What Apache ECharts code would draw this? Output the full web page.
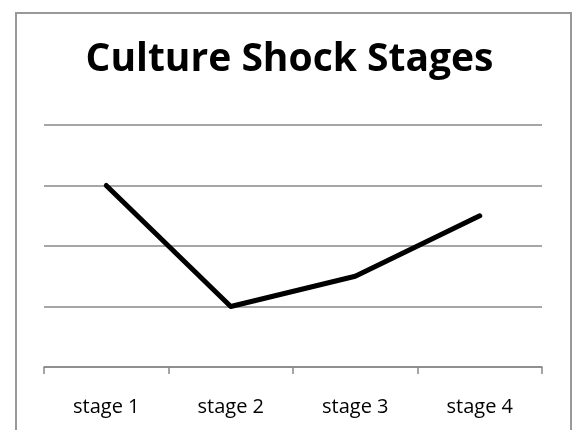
<!DOCTYPE html>
<html>
<head>
<meta charset="utf-8">
<style>
  html, body { margin: 0; padding: 0; background: #fff; }
  #chart { width: 579px; height: 430px; }
</style>
<script src="https://cdn.jsdelivr.net/npm/echarts@6/dist/echarts.min.js"></script>
</head>
<body>
<div id="chart"></div>
<script>
// 数据
var categories = ['stage 1', 'stage 2', 'stage 3', 'stage 4'];
var values = [3, 1, 1.5, 2.5];
var yTicks = [0, 1, 2, 3, 4];

var myChart = echarts.init(document.getElementById('chart'));

var option = {
    backgroundColor: '#fff',
    animation: false,
    title: {
        text: 'Culture Shock Stages',
        left: 'center',
        top: 35,
        textStyle: {
            fontFamily: 'Open Sans',
            fontWeight: 'bold',
            fontSize: 39,
            color: '#000'
        }
    },
    graphic: [
        {
            type: 'rect',
            shape: {x: 16, y: 13, width: 555, height: 440},
            style: {fill: 'none', stroke: '#999', lineWidth: 2},
            silent: true
        }
    ],
    grid: {
        left: 44,
        right: 37,
        top: 125,
        bottom: 63
    },
    xAxis: {
        type: 'category',
        boundaryGap: true,
        data: categories,
        axisLine: {lineStyle: {color: '#888', width: 1.5}},
        axisTick: {show: true, length: 7, lineStyle: {color: '#888', width: 1.5}},
        axisLabel: {
            margin: 30,
            fontFamily: 'Open Sans',
            fontSize: 20,
            color: '#000'
        }
    },
    yAxis: {
        type: 'value',
        min: yTicks[0],
        max: yTicks[yTicks.length - 1],
        interval: 1,
        axisLabel: {show: false},
        axisLine: {show: false},
        axisTick: {show: false},
        splitLine: {lineStyle: {color: '#888', width: 1.5}}
    },
    series: [
        {
            name: 'Culture Shock',
            type: 'line',
            data: values,
            symbol: 'none',
            lineStyle: {color: '#000', width: 5, cap: 'round', join: 'round'}
        }
    ]
};

myChart.setOption(option);
</script>
</body>
</html>
